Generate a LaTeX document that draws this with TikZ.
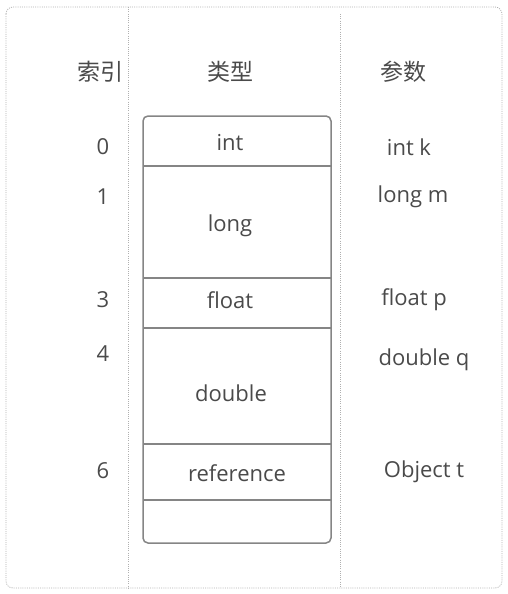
\documentclass[tikz,border=0pt]{standalone}
\usepackage{fontspec}
\setmainfont{Open Sans}
\newfontfamily\cjk{Noto Sans CJK SC}
\definecolor{txtgray}{HTML}{4A4A4A}
\definecolor{linegray}{HTML}{858585}
\definecolor{dotgray}{HTML}{B0B0B0}
\tikzset{
  lbl/.style={text=txtgray, font=\fontsize{22}{26}\selectfont, inner sep=0pt},
  head/.style={text=txtgray, font=\cjk\fontsize{23}{26}\selectfont, inner sep=0pt},
  frame/.style={dotgray, line width=0.8pt, dash pattern=on 1pt off 1.2pt},
  slot/.style={linegray, line width=1.5pt}
}
\begin{document}
\begin{tikzpicture}[x=1pt,y=-1pt]
  \useasboundingbox (0,0) rectangle (508,594);
  % outer frame and column rules
  \draw[frame, rounded corners=7] (6,7) rectangle (502,588);
  \draw[frame] (128,7) -- (128,588);
  \draw[frame] (340,14) -- (340,588);
  % headers
  \node[head] (hidx) at (100,72) {索引};
  \node[head] (htype) at (230,72) {类型};
  \node[head] (hparam) at (403,72) {参数};
  % local variable table
  \draw[slot, rounded corners=5] (143,116) rectangle (331,543);
  \foreach \y in {166,278,328,444,500}
    \draw[slot] (143,\y) -- (331,\y);
  % slot types
  \node[lbl] (tint) at (230,143) {int};
  \node[lbl] (tlong) at (230,226) {long};
  \node[lbl] (tfloat) at (230,300) {float};
  \node[lbl] (tdouble) at (231,393) {double};
  \node[lbl] (tref) at (237,473) {reference};
  % indices and parameters
  \foreach \n/\i/\y in {i0/0/147, i1/1/197, i3/3/300, i4/4/354, i6/6/471}
    \node[lbl] (\n) at (103,\y) {\i};
  \node[lbl] (pint) at (409,147) {int k};
  \node[lbl] (plong) at (413,197) {long m};
  \node[lbl] (pfloat) at (414,300) {float p};
  \node[lbl] (pdouble) at (424,360) {double q};
  \node[lbl] (pobj) at (424,472) {Object t};
\end{tikzpicture}
\end{document}
